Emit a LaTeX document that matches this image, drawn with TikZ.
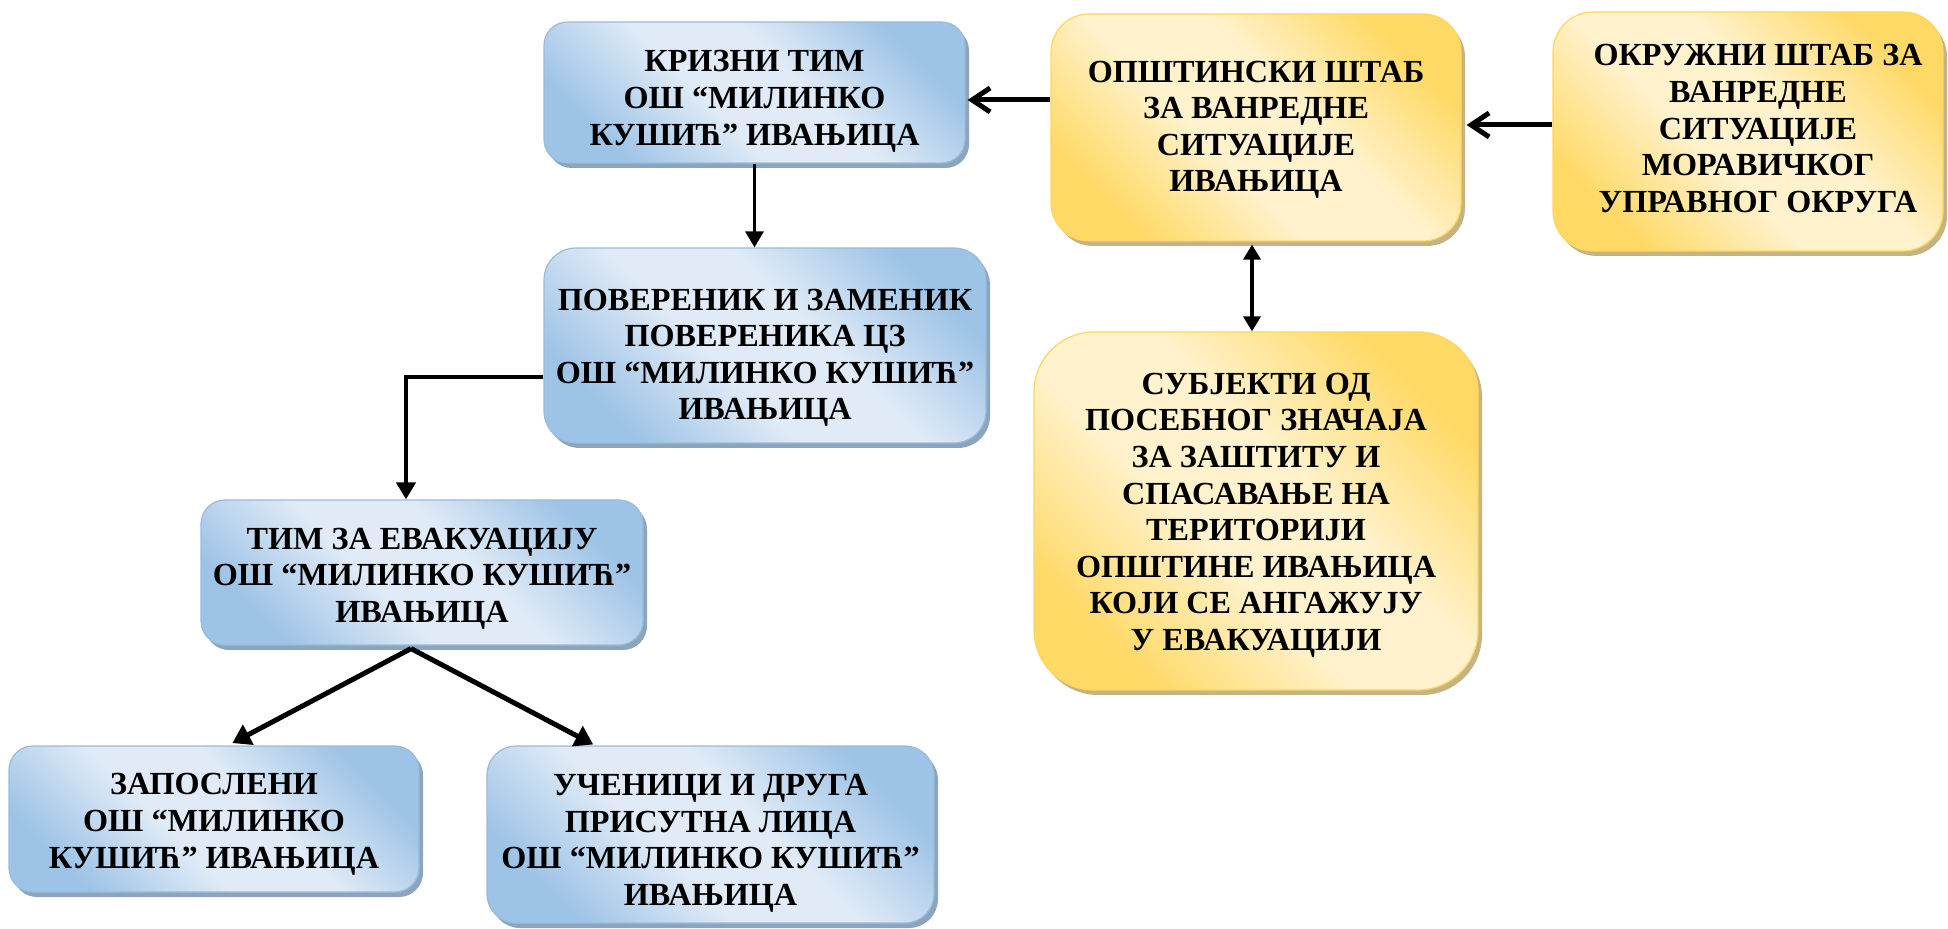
\documentclass[tikz,border=0pt]{standalone}
\usepackage{fontspec}
\setmainfont{Liberation Serif}
\usetikzlibrary{arrows.meta,shadows}
\definecolor{bdark}{HTML}{9DC3E6}
\definecolor{blight}{HTML}{E0EBF7}
\definecolor{bborder}{HTML}{9BBBD9}
\definecolor{bshadow}{HTML}{8CA5BF}
\definecolor{ydark}{HTML}{FFD966}
\definecolor{ylight}{HTML}{FFF2CC}
\definecolor{yborder}{HTML}{FFD65A}
\definecolor{yshadow}{HTML}{C4B483}
\pgfdeclarehorizontalshading{blueshade}{100bp}{color(0bp)=(bdark); color(25bp)=(bdark); color(43bp)=(blight); color(57bp)=(blight); color(75bp)=(bdark); color(100bp)=(bdark)}
\pgfdeclarehorizontalshading{yellowshade}{100bp}{color(0bp)=(ydark); color(25bp)=(ydark); color(43bp)=(ylight); color(57bp)=(ylight); color(75bp)=(ydark); color(100bp)=(ydark)}
% first-line strut: shifts the text block down by #1
\newcommand{\dn}[1]{\rule{0pt}{\dimexpr 10.9pt+2\dimexpr #1\relax\relax}}
\tikzset{
  box/.style={inner sep=0pt, align=center, line width=0.6pt,
    font=\bfseries\fontsize{16.1}{18.3}\selectfont},
  bluebox/.style={box, shading=blueshade, shading angle=45, draw=bborder,
    drop shadow={shadow xshift=2pt, shadow yshift=-2.5pt, fill=bshadow, opacity=1}},
  yellowbox/.style={box, shading=yellowshade, shading angle=45, draw=yborder,
    drop shadow={shadow xshift=2pt, shadow yshift=-2.5pt, fill=yshadow, opacity=1}},
  openarr/.style={line width=2.5pt, -{Straight Barb[length=9pt,width=12pt]}},
}
\begin{document}
\begin{tikzpicture}[x=0.5pt,y=-0.5pt]
\useasboundingbox (0,0) rectangle (1948,929);
% blue boxes
\node[bluebox, minimum width=210.5pt, minimum height=70.5pt, rounded corners=11.75pt] (A) at (754.5,92.5)
  {\dn{4.3pt}КРИЗНИ ТИМ\\ОШ “МИЛИНКО\\КУШИЋ” ИВАЊИЦА};
\node[bluebox, minimum width=221pt, minimum height=97.5pt, rounded corners=16pt] (D) at (765,345.5)
  {\dn{6pt}ПОВЕРЕНИК И ЗАМЕНИК\\ПОВЕРЕНИКА ЦЗ\\ОШ “МИЛИНКО КУШИЋ”\\ИВАЊИЦА};
\node[bluebox, minimum width=221pt, minimum height=72.5pt, rounded corners=12pt] (F) at (422,572.5)
  {\dn{3pt}ТИМ ЗА ЕВАКУАЦИЈУ\\ОШ “МИЛИНКО КУШИЋ”\\ИВАЊИЦА};
\node[bluebox, minimum width=205pt, minimum height=73pt, rounded corners=12pt] (G) at (214,819)
  {\dn{2.5pt}ЗАПОСЛЕНИ\\ОШ “МИЛИНКО\\КУШИЋ” ИВАЊИЦА};
\node[bluebox, minimum width=223.5pt, minimum height=88.5pt, rounded corners=14.5pt] (H) at (710.5,834.5)
  {\dn{4.3pt}УЧЕНИЦИ И ДРУГА\\ПРИСУТНА ЛИЦА\\ОШ “МИЛИНКО КУШИЋ”\\ИВАЊИЦА};
% yellow boxes
\node[yellowbox, minimum width=205pt, minimum height=113.5pt, rounded corners=19pt] (B) at (1256,127.5)
  {\dn{1pt}ОПШТИНСКИ ШТАБ\\ЗА ВАНРЕДНЕ\\СИТУАЦИЈЕ\\ИВАЊИЦА};
\node[yellowbox, minimum width=195pt, minimum height=119.5pt, rounded corners=20pt] (C) at (1748,131.5)
  {\hspace*{10pt}ОКРУЖНИ ШТАБ ЗА\\\hspace*{10pt}ВАНРЕДНЕ\\\hspace*{10pt}СИТУАЦИЈЕ\\\hspace*{10pt}МОРАВИЧКОГ\\\hspace*{10pt}УПРАВНОГ ОКРУГА\rule[-3pt]{0pt}{3pt}};
\node[yellowbox, minimum width=222pt, minimum height=179pt, rounded corners=30pt] (E) at (1256,511)
  {\dn{2pt}СУБЈЕКТИ ОД\\ПОСЕБНОГ ЗНАЧАЈА\\ЗА ЗАШТИТУ И\\СПАСАВАЊЕ НА\\ТЕРИТОРИЈИ\\ОПШТИНЕ ИВАЊИЦА\\КОЈИ СЕ АНГАЖУЈУ\\У ЕВАКУАЦИЈИ};
% connectors
\draw[openarr] (B.west |- 0,100) -- ([xshift=1pt]A.east |- 0,100);
\draw[openarr] (C.west |- 0,125) -- ([xshift=2.5pt]B.east |- 0,125);
\draw[line width=1.75pt, {Triangle[length=7.5pt,width=8.5pt]}-{Triangle[length=7.5pt,width=8.5pt]}]
  ([yshift=-1.5pt]B.south -| 1252,0) -- (E.north -| 1252,0);
\draw[line width=1.5pt, -{Triangle[length=8pt,width=9pt]}] (A.south) -- (A.south |- D.north);
\draw[line width=2.25pt, -{Triangle[length=8.5pt,width=9.5pt]}] (D.west |- 0,377) -| (F.north -| 406,0);
\coordinate (apex) at (F.south -| 411,0);
\draw[line width=2.5pt, -{Triangle[length=9pt,width=11pt]}, shorten >=2.5pt] ([yshift=-1.5pt]apex) -- (G.north -| 228,0);
\draw[line width=2.5pt, -{Triangle[length=9pt,width=11pt]}, shorten >=1pt] ([yshift=-1.5pt]apex) -- (H.north -| 595,0);
\end{tikzpicture}
\end{document}
